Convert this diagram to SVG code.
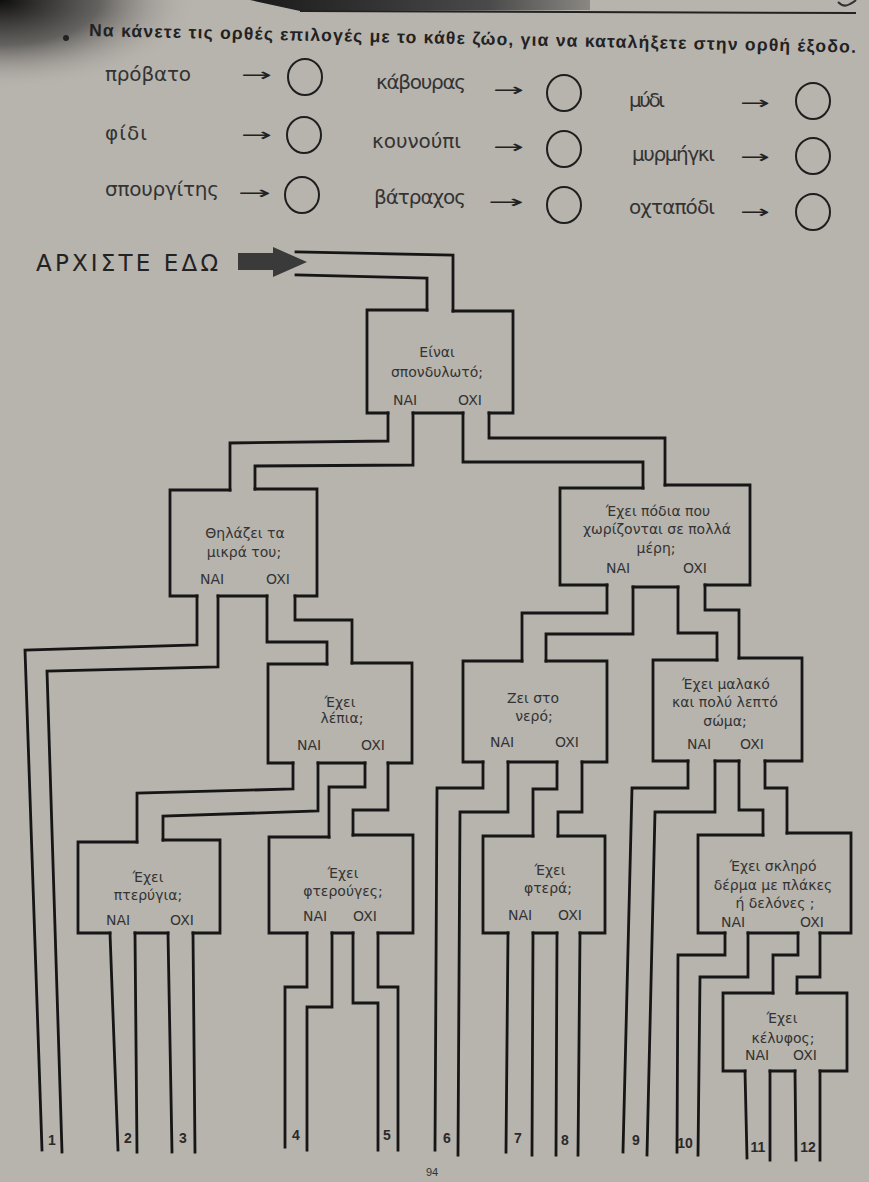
<svg xmlns="http://www.w3.org/2000/svg" width="869" height="1182" viewBox="0 0 869 1182">
<defs>
<radialGradient id="shadow" cx="0" cy="0" r="1" gradientUnits="userSpaceOnUse" gradientTransform="translate(0,0) scale(200,90)">
<stop offset="0" stop-color="#050505" stop-opacity="0.95"/>
<stop offset="0.5" stop-color="#202020" stop-opacity="0.55"/>
<stop offset="1" stop-color="#b7b3ad" stop-opacity="0"/>
</radialGradient>
<linearGradient id="band" x1="0" y1="0" x2="1" y2="0">
<stop offset="0" stop-color="#1a1a1a"/>
<stop offset="0.7" stop-color="#4a4a4a"/>
<stop offset="1" stop-color="#8a8782"/>
</linearGradient>
<style>
.w{fill:none;stroke:#161616;stroke-width:2.8;stroke-linecap:square;stroke-linejoin:miter}
.q{font-family:"DejaVu Sans","Liberation Sans",sans-serif;font-size:14px;fill:#333;text-anchor:middle}
.a{font-family:"DejaVu Sans","Liberation Sans",sans-serif;font-size:20px;fill:#333}
.ar{font-family:"DejaVu Sans",sans-serif;font-size:18px;fill:#222}
.c{fill:none;stroke:#1e1e1e;stroke-width:2}
.n{font-family:"Liberation Sans","DejaVu Sans",sans-serif;font-size:14px;font-weight:bold;fill:#2a2a2a;text-anchor:middle}
</style>
</defs>
<rect width="869" height="1182" fill="#b7b3ad"/>
<rect width="869" height="1182" fill="url(#shadow)"/>
<path d="M250,0 L590,0 L590,10 L300,11 Z" fill="url(#band)"/>
<path d="M300,11 L856,13" stroke="#222" stroke-width="2" fill="none"/>
<path d="M838,2 q6,6 12,2 q4,-2 6,-4" stroke="#333" stroke-width="2" fill="none"/>

<g id="header">
<circle cx="66" cy="38" r="3" fill="#222"/>
<text x="89" y="36" transform="rotate(1.25 89 36)" font-family="Liberation Sans, DejaVu Sans, sans-serif" font-size="17.5" font-weight="bold" fill="#222" textLength="767">Να κάνετε τις ορθές επιλογές με το κάθε ζώο, για να καταλήξετε στην ορθή έξοδο.</text>
</g>

<g id="animals">
<text class="a" x="105" y="81" textLength="86">πρόβατο</text>
<text class="ar" x="241" y="81" textLength="31" lengthAdjust="spacingAndGlyphs">→</text>
<ellipse class="c" cx="305" cy="77" rx="17" ry="18"/>
<text class="a" x="105" y="140" textLength="42">φίδι</text>
<text class="ar" x="241" y="141" textLength="31" lengthAdjust="spacingAndGlyphs">→</text>
<ellipse class="c" cx="304" cy="135" rx="17" ry="18"/>
<text class="a" x="105" y="196" textLength="114">σπουργίτης</text>
<text class="ar" x="238" y="199" textLength="33" lengthAdjust="spacingAndGlyphs">→</text>
<ellipse class="c" cx="302" cy="195" rx="17" ry="18"/>

<text class="a" x="376" y="89" textLength="90">κάβουρας</text>
<text class="ar" x="493" y="96" textLength="31" lengthAdjust="spacingAndGlyphs">→</text>
<ellipse class="c" cx="564" cy="93" rx="17" ry="18"/>
<text class="a" x="372" y="148" textLength="89">κουνούπι</text>
<text class="ar" x="493" y="153" textLength="31" lengthAdjust="spacingAndGlyphs">→</text>
<ellipse class="c" cx="564" cy="149" rx="17" ry="18"/>
<text class="a" x="374" y="204" textLength="92">βάτραχος</text>
<text class="ar" x="488" y="208" textLength="36" lengthAdjust="spacingAndGlyphs">→</text>
<ellipse class="c" cx="564" cy="205" rx="17" ry="18"/>

<text class="a" x="629" y="107" textLength="36">μύδι</text>
<text class="ar" x="740" y="109" textLength="30" lengthAdjust="spacingAndGlyphs">→</text>
<ellipse class="c" cx="813" cy="101" rx="17" ry="18"/>
<text class="a" x="632" y="161" textLength="83">μυρμήγκι</text>
<text class="ar" x="740" y="163" textLength="30" lengthAdjust="spacingAndGlyphs">→</text>
<ellipse class="c" cx="813" cy="156" rx="17" ry="18"/>
<text class="a" x="629" y="214" textLength="86">οχταπόδι</text>
<text class="ar" x="740" y="218" textLength="30" lengthAdjust="spacingAndGlyphs">→</text>
<ellipse class="c" cx="813" cy="212" rx="17" ry="18"/>
</g>

<g id="start">
<text x="36" y="271" font-family="DejaVu Sans, Liberation Sans, sans-serif" font-size="23" fill="#222" textLength="182">ΑΡΧΙΣΤΕ ΕΔΩ</text>
<path d="M238,253 L273,253 L273,247 L307,262 L273,277 L273,270 L238,270 Z" fill="#3a3a3a"/>
</g>

<g id="connectors" class="w">
<path d="M296,252 L453,255 L453,311 M296,275 L427,278 L427,310"/>
<path d="M388,413 V441 L230,443 V490 M413,413 V465 L255,466 V489"/>
<path d="M463,413 V462 H643 V488 M489,413 V438 H665 V485"/>
<path d="M197,596 V645 L25,650 L42,1150 M218,596 V667 L47,671 L62,1152"/>
<path d="M267,596 V642 H327 V664 M295,596 V620 H352 V663"/>
<path d="M293,763 V789 L137,793 V842 M318,763 V811 L163,816 V840"/>
<path d="M365,763 V787 H329 V837 M388,763 V810 H353 V835"/>
<path d="M110,933 L118,1150 M135,933 L137,1152"/>
<path d="M168,933 L172,1152 M193,933 L195,1152"/>
<path d="M307,933 V987 H285 V1147 M332,933 V1007 H307 V1150"/>
<path d="M353,933 V1003 H378 V1150 M378,933 V987 H398 V1150"/>
<path d="M607,585 V613 H522 V661 M633,587 V634 H546 V661"/>
<path d="M678,587 V633 H717 V660 M705,585 V610 H739 V658"/>
<path d="M483,762 V788 H437 L435,1150 M508,762 V812 H460 L458,1155"/>
<path d="M557,762 V789 H533 V836 M582,762 V812 H558 V836"/>
<path d="M508,933 L506,1152 M533,933 L532,1155"/>
<path d="M557,933 L556,1155 M580,933 L578,1155"/>
<path d="M688,761 V788 H632 L623,1152 M715,761 V812 H655 L647,1155"/>
<path d="M739,761 V810 H763 V835 M765,761 V788 H787 V833"/>
<path d="M725,933 V955 H678 L677,1152 M748,933 V977 H700 L698,1155"/>
<path d="M798,933 V955 H773 V993 M820,933 V977 H797 V993"/>
<path d="M745,1071 L747,1158 M770,1071 L770,1160"/>
<path d="M795,1071 L796,1160 M820,1071 L820,1160"/>
</g>

<g id="q-spondylwto">
<path class="w" d="M427,310 H367 V413 H388 M453,311 H513 V413 H489 M413,413 H463"/>
<text class="q" x="437" y="357">Είναι</text>
<text class="q" x="437" y="377">σπονδυλωτό;</text>
<text class="q" x="405" y="405">NAI</text>
<text class="q" x="470" y="405">OXI</text>
</g>

<g id="q-thilazei">
<path class="w" d="M230,490 H170 V596 H197 M255,489 H317 V596 H295 M218,596 H267"/>
<text class="q" x="245" y="538">Θηλάζει τα</text>
<text class="q" x="244" y="557">μικρά του;</text>
<text class="q" x="212" y="584">NAI</text>
<text class="q" x="278" y="584">OXI</text>
</g>

<g id="q-podia">
<path class="w" d="M643,488 H560 V585 H607 M665,485 H750 V585 H705 M633,587 H678"/>
<text class="q" x="658" y="516">Έχει πόδια που</text>
<text class="q" x="657" y="534">χωρίζονται σε πολλά</text>
<text class="q" x="656" y="553">μέρη;</text>
<text class="q" x="618" y="573">NAI</text>
<text class="q" x="695" y="573">OXI</text>
</g>

<g id="q-lepia">
<path class="w" d="M327,664 H268 V763 H293 M352,663 H412 V763 H388 M318,763 H365"/>
<text class="q" x="340" y="707">Έχει</text>
<text class="q" x="342" y="723">λέπια;</text>
<text class="q" x="309" y="750">NAI</text>
<text class="q" x="373" y="750">OXI</text>
</g>

<g id="q-nero">
<path class="w" d="M522,661 H463 V762 H483 M546,661 H607 V762 H582 M508,762 H557"/>
<text class="q" x="533" y="703">Ζει στο</text>
<text class="q" x="534" y="721">νερό;</text>
<text class="q" x="502" y="747">NAI</text>
<text class="q" x="567" y="747">OXI</text>
</g>

<g id="q-malako">
<path class="w" d="M717,660 H653 V761 H688 M739,658 H802 V761 H765 M715,761 H739"/>
<text class="q" x="726" y="689">Έχει μαλακό</text>
<text class="q" x="725" y="707">και πολύ λεπτό</text>
<text class="q" x="725" y="726">σώμα;</text>
<text class="q" x="699" y="749">NAI</text>
<text class="q" x="752" y="749">OXI</text>
</g>

<g id="q-pterygia">
<path class="w" d="M137,842 H78 V933 H110 M163,840 H220 V933 H193 M135,933 H168"/>
<text class="q" x="148" y="882">Έχει</text>
<text class="q" x="148" y="900">πτερύγια;</text>
<text class="q" x="118" y="925">NAI</text>
<text class="q" x="182" y="925">OXI</text>
</g>

<g id="q-fteroyges">
<path class="w" d="M329,837 H269 V933 H307 M353,835 H413 V933 H378 M332,933 H353"/>
<text class="q" x="343" y="878">Έχει</text>
<text class="q" x="343" y="896">φτερούγες;</text>
<text class="q" x="315" y="921">NAI</text>
<text class="q" x="365" y="921">OXI</text>
</g>

<g id="q-ftera">
<path class="w" d="M533,836 H483 V933 H508 M558,836 H605 V933 H580 M533,933 H557"/>
<text class="q" x="550" y="875">Έχει</text>
<text class="q" x="548" y="893">φτερά;</text>
<text class="q" x="520" y="920">NAI</text>
<text class="q" x="570" y="920">OXI</text>
</g>

<g id="q-sklhro">
<path class="w" d="M763,835 H698 V933 H725 M787,833 H851 V933 H820 M748,933 H798"/>
<text class="q" x="773" y="871">Έχει σκληρό</text>
<text class="q" x="773" y="890">δέρμα με πλάκες</text>
<text class="q" x="775" y="908">ή δελόνες ;</text>
<text class="q" x="733" y="927">NAI</text>
<text class="q" x="812" y="927">OXI</text>
</g>

<g id="q-kelyfos">
<path class="w" d="M773,993 H723 V1071 H745 M797,993 H847 V1071 H820 M770,1071 H795"/>
<text class="q" x="782" y="1023">Έχει</text>
<text class="q" x="783" y="1043">κέλυφος;</text>
<text class="q" x="757" y="1060">NAI</text>
<text class="q" x="805" y="1060">OXI</text>
</g>

<g id="exits">
<text class="n" x="52" y="1145">1</text>
<text class="n" x="128" y="1143">2</text>
<text class="n" x="183" y="1143">3</text>
<text class="n" x="296" y="1140">4</text>
<text class="n" x="387" y="1140">5</text>
<text class="n" x="447" y="1143">6</text>
<text class="n" x="518" y="1143">7</text>
<text class="n" x="565" y="1145">8</text>
<text class="n" x="636" y="1145">9</text>
<text class="n" x="685" y="1148">10</text>
<text class="n" x="758" y="1152">11</text>
<text class="n" x="808" y="1152">12</text>
</g>
<text x="432" y="1176" font-family="Liberation Sans, DejaVu Sans, sans-serif" font-size="11" fill="#333" text-anchor="middle">94</text>
</svg>
